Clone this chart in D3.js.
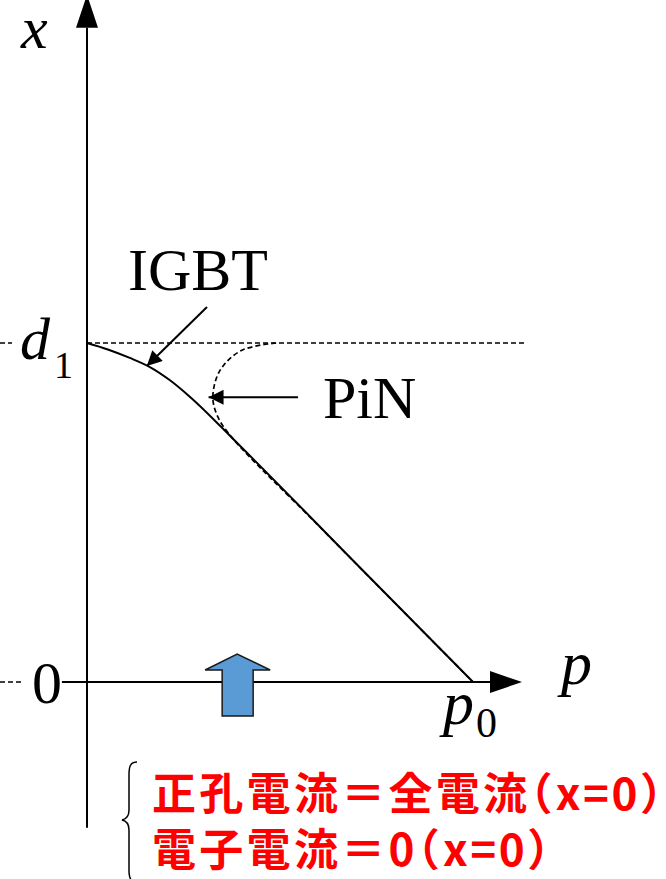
<!DOCTYPE html>
<html>
<head>
<meta charset="utf-8">
<script src="https://cdn.jsdelivr.net/npm/d3@7"></script>
<style>
  body { margin: 0; background: #fff; }
  .serif { font-family: "Times New Roman", "Liberation Serif", serif; fill: #000; }
  .jp { font-family: "Noto Sans CJK JP", sans-serif; font-weight: bold; fill: #ff0000; }
  .half { font-feature-settings: "halt" 1; }
</style>
</head>
<body>
<div id="chart"></div>
<script>

// ----- Daten (p = Löcherdichte / p0, x = Ort / d1) --------------------------------------- //

var igbtP = [0, 0.054, 0.111, 0.163, 0.215, 0.267, 0.389, 0.70, 1.0];
var igbtX = [1, 0.981, 0.956, 0.929, 0.890, 0.841, 0.705, 0.346, 0];

var pinP = [0.49, 0.40, 0.345, 0.326, 0.339, 0.378, 0.60, 1.0];
var pinX = [1, 0.978, 0.92, 0.841, 0.782, 0.718, 0.461, 0];

var pAxisExtent = [-0.065, 1.0];     // Achse p (Pfeil schließt an)
var xAxisExtent = [-0.43, 1.93];     // Achse x (Pfeil schließt an)

var labelsJP = ['正孔電流＝全電流（x=0）', '電子電流＝0（x=0）'];
var curveNames = ['IGBT', 'PiN'];

var currentArrowP = 0.389;           // blauer Pfeil bei x = 0


// ----- Grundgerüst --------------------------------------------------------------------------- //

var width = 666, height = 879;

var svg = d3.select('#chart').append('svg')
    .attr('width', width)
    .attr('height', height);

svg.append('rect').attr('width', width).attr('height', height).attr('fill', '#fff');

var pScale = d3.scaleLinear().domain([0, 1]).range([87, 473]);
var xScale = d3.scaleLinear().domain([0, 1]).range([682, 343]);


// ----- Hilfslinien (gestrichelt) ----------------------------------------------------------- //

svg.append('line')
    .attr('x1', 0).attr('x2', 12)
    .attr('y1', xScale(1)).attr('y2', xScale(1))
    .attr('stroke', '#000').attr('stroke-width', 1.6).attr('stroke-dasharray', '5,3');

svg.append('line')
    .attr('x1', pScale(0)).attr('x2', 525)
    .attr('y1', xScale(1)).attr('y2', xScale(1))
    .attr('stroke', '#000').attr('stroke-width', 1.6).attr('stroke-dasharray', '5,3');

svg.append('line')
    .attr('x1', 0).attr('x2', 22)
    .attr('y1', xScale(0)).attr('y2', xScale(0))
    .attr('stroke', '#000').attr('stroke-width', 1.6).attr('stroke-dasharray', '5,3');


// ----- Achsen ------------------------------------------------------------------------------ //

var xTop = xScale(xAxisExtent[1]);
var pRight = pScale(pAxisExtent[1]) + 17;

svg.append('line')
    .attr('x1', pScale(0)).attr('x2', pScale(0))
    .attr('y1', xScale(xAxisExtent[0])).attr('y2', xTop)
    .attr('stroke', '#000').attr('stroke-width', 2);

svg.append('path')
    .attr('d', 'M' + pScale(0) + ',' + (xTop - 33) + ' L' + (pScale(0) - 11) + ',' + xTop +
               ' L' + (pScale(0) + 11) + ',' + xTop + ' Z')
    .attr('fill', '#000');

svg.append('line')
    .attr('x1', pScale(pAxisExtent[0])).attr('x2', pRight)
    .attr('y1', xScale(0)).attr('y2', xScale(0))
    .attr('stroke', '#000').attr('stroke-width', 2);

svg.append('path')
    .attr('d', 'M' + (pRight + 32) + ',' + xScale(0) + ' L' + pRight + ',' + (xScale(0) - 11) +
               ' L' + pRight + ',' + (xScale(0) + 11) + ' Z')
    .attr('fill', '#000');


// ----- Kurven -------------------------------------------------------------------------------- //

var pinLine = d3.line()
    .x(function (d) { return pScale(d[0]); })
    .y(function (d) { return xScale(d[1]); })
    .curve(d3.curveCatmullRom.alpha(0.5));

var igbtLine = d3.line()
    .x(function (d) { return pScale(d[0]); })
    .y(function (d) { return xScale(d[1]); })
    .curve(d3.curveMonotoneX);

svg.append('path')
    .datum(d3.zip(pinP, pinX))
    .attr('d', pinLine)
    .attr('fill', 'none')
    .attr('stroke', '#000').attr('stroke-width', 1.7).attr('stroke-dasharray', '5,3');

svg.append('path')
    .datum(d3.zip(igbtP, igbtX))
    .attr('d', igbtLine)
    .attr('fill', 'none')
    .attr('stroke', '#000').attr('stroke-width', 2);


// ----- Pfeile zu den Beschriftungen ------------------------------------------------------------ //

var defs = svg.append('defs');
defs.append('marker')
    .attr('id', 'head')
    .attr('viewBox', '0 0 10 10')
    .attr('refX', 10).attr('refY', 5)
    .attr('markerWidth', 9).attr('markerHeight', 7.5)
    .attr('markerUnits', 'strokeWidth')
    .attr('orient', 'auto')
    .append('path')
    .attr('d', 'M0,0 L10,5 L0,10 Z')
    .attr('fill', '#000');

svg.append('line')
    .attr('x1', 207).attr('y1', 307)
    .attr('x2', pScale(0.155)).attr('y2', xScale(0.932))
    .attr('stroke', '#000').attr('stroke-width', 2)
    .attr('marker-end', 'url(#head)');

svg.append('line')
    .attr('x1', 298).attr('y1', xScale(0.84))
    .attr('x2', pScale(0.315)).attr('y2', xScale(0.84))
    .attr('stroke', '#000').attr('stroke-width', 2)
    .attr('marker-end', 'url(#head)');


// ----- Blauer Pfeil ------------------------------------------------------------------------- //

var cx = pScale(currentArrowP), by = xScale(0);
svg.append('path')
    .attr('d', 'M' + (cx - 15) + ',' + (by + 34) +
               ' L' + (cx - 15) + ',' + (by - 12) +
               ' L' + (cx - 32) + ',' + (by - 12) +
               ' L' + cx + ',' + (by - 28) +
               ' L' + (cx + 33) + ',' + (by - 12) +
               ' L' + (cx + 16) + ',' + (by - 12) +
               ' L' + (cx + 16) + ',' + (by + 34) + ' Z')
    .attr('fill', '#5b9bd5')
    .attr('stroke', '#1a1a1a').attr('stroke-width', 1.5)
    .attr('stroke-linejoin', 'miter');


// ----- Beschriftungen ---------------------------------------------------------------------- //

svg.append('text').attr('class', 'serif')
    .attr('x', 21).attr('y', 48)
    .style('font-size', '60px').style('font-style', 'italic')
    .text('x');

svg.append('text').attr('class', 'serif')
    .attr('x', 20).attr('y', 359)
    .style('font-size', '60px').style('font-style', 'italic')
    .text('d');
svg.append('text').attr('class', 'serif')
    .attr('x', 54).attr('y', 378)
    .style('font-size', '38px')
    .text('1');

svg.append('text').attr('class', 'serif')
    .attr('x', 47).attr('y', 703)
    .attr('text-anchor', 'middle')
    .style('font-size', '60px')
    .text('0');

svg.append('text').attr('class', 'serif')
    .attr('x', 561).attr('y', 684)
    .style('font-size', '62px').style('font-style', 'italic')
    .text('p');

svg.append('text').attr('class', 'serif')
    .attr('x', 443).attr('y', 724)
    .style('font-size', '62px').style('font-style', 'italic')
    .text('p');
svg.append('text').attr('class', 'serif')
    .attr('x', 476).attr('y', 737)
    .style('font-size', '42px')
    .text('0');

svg.append('text').attr('class', 'serif')
    .attr('x', 128).attr('y', 290)
    .style('font-size', '60px')
    .text(curveNames[0]);

svg.append('text').attr('class', 'serif')
    .attr('x', 323).attr('y', 418)
    .style('font-size', '60px')
    .text(curveNames[1]);


// ----- Geschweifte Klammer + Randbedingungen ------------------------------------------------ //

svg.append('path')
    .attr('d', 'M137,762 C130,762 129,767 129,775 L129,810 C129,816 127,819 122,820 ' +
               'C127,821 129,824 129,830 L129,870 C129,877 130,882 137,882')
    .attr('fill', 'none')
    .attr('stroke', '#000').attr('stroke-width', 1.5);

// Klammern halbbreit ("halt"), sonst läuft die Zeile aus dem Bild
svg.selectAll('.jp')
    .data(labelsJP)
    .enter().append('text')
    .attr('class', 'jp')
    .attr('x', 152)
    .attr('y', function (d, i) { return 810 + i * 56; })
    .style('font-size', '44px')
    .style('letter-spacing', '3.3px')
    .each(function (d) {
        var t = d3.select(this);
        var k = d.indexOf('（');
        var inner = d.slice(k + 1, d.indexOf('）'));
        t.append('tspan').text(d.slice(0, k));
        t.append('tspan').attr('class', 'half').text('（');
        t.append('tspan').style('letter-spacing', '2.5px').text(inner);
        t.append('tspan').attr('class', 'half').text('）');
    });

</script>
</body>
</html>
